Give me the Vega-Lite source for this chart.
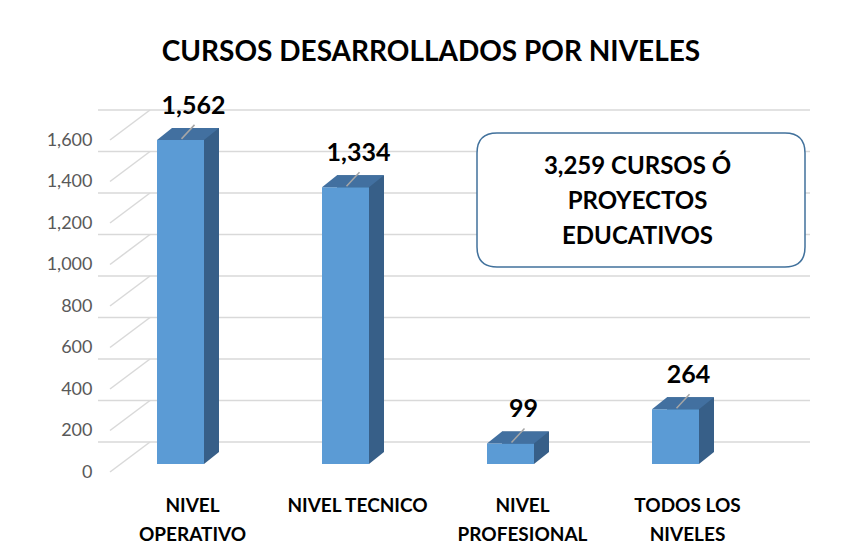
{
  "$schema": "https://vega.github.io/schema/vega-lite/v6.json",
  "autosize": {"type": "none"},
  "padding": {"left": 98, "top": 140, "right": 87, "bottom": 87},
  "width": 660,
  "height": 332,
  "background": "white",
  "title": {"text": "CURSOS DESARROLLADOS POR NIVELES", "font": "Lato", "fontSize": 28, "fontWeight": "bold", "color": "#000000", "anchor": "middle", "offset": 27, "dx": 3},
  "datasets": {
    "niveles": [
      {"nivel": "NIVEL OPERATIVO", "cursos": 1562},
      {"nivel": "NIVEL TECNICO", "cursos": 1334},
      {"nivel": "NIVEL PROFESIONAL", "cursos": 99},
      {"nivel": "TODOS LOS NIVELES", "cursos": 264}
    ],
    "rejilla": [{"v": 0}, {"v": 200}, {"v": 400}, {"v": 600}, {"v": 800}, {"v": 1000}, {"v": 1200}, {"v": 1400}, {"v": 1600}],
    "nota": [{"texto": ["3,259 CURSOS Ó", "PROYECTOS", "EDUCATIVOS"], "nivel": "TODOS LOS NIVELES", "pos": 1311}]
  },
  "data": {"name": "niveles"},
  "layer": [
    {
      "data": {"name": "rejilla"},
      "mark": {"type": "rule", "color": "#d9d9d9", "strokeWidth": 1.5, "xOffset": 52, "x2Offset": 52, "yOffset": -30, "y2Offset": -30},
      "encoding": {"y": {"field": "v", "type": "quantitative", "title": null}}
    },
    {
      "data": {"name": "rejilla"},
      "mark": {"type": "rule", "color": "#d9d9d9", "strokeWidth": 1.5, "xOffset": -70.5, "x2Offset": -30.5, "y2Offset": -30},
      "encoding": {
        "x": {"datum": "NIVEL OPERATIVO", "type": "nominal", "title": null},
        "x2": {"datum": "NIVEL OPERATIVO"},
        "y": {"field": "v", "type": "quantitative", "title": null},
        "y2": {"field": "v"}
      }
    },
    {
      "mark": {"type": "bar", "color": "#375f88", "width": 47, "xOffset": 15, "x2Offset": 15, "yOffset": -20, "y2Offset": -20},
      "encoding": {
        "x": {"field": "nivel", "type": "nominal", "title": null},
        "y": {"field": "cursos", "type": "quantitative", "title": null}
      }
    },
    {
      "mark": {"type": "bar", "color": "#5b9bd5", "width": 47, "yOffset": -8, "y2Offset": -8},
      "encoding": {
        "x": {"field": "nivel", "type": "nominal", "title": null, "sort": null,
          "scale": {"domain": ["NIVEL OPERATIVO", "NIVEL TECNICO", "NIVEL PROFESIONAL", "TODOS LOS NIVELES"], "paddingInner": 0, "paddingOuter": 0},
          "axis": {"domain": false, "ticks": false, "grid": false, "labelAngle": 0, "labelAlign": "center", "labelFont": "Lato", "labelFontSize": 19, "labelFontWeight": "bold", "labelColor": "#000000", "labelPadding": 24, "labelBaseline": "top", "labelLineHeight": 29, "labelOffset": 12,
            "labelExpr": "datum.value == 'NIVEL TECNICO' ? datum.value : (datum.value == 'TODOS LOS NIVELES' ? ['TODOS LOS', 'NIVELES'] : split(datum.value, ' '))"}},
        "y": {"field": "cursos", "type": "quantitative", "title": null,
          "scale": {"domain": [0, 1600], "nice": false, "zero": true},
          "axis": {"values": [0, 200, 400, 600, 800, 1000, 1200, 1400, 1600], "format": ",.0f", "domain": false, "ticks": false, "grid": false, "labelFont": "Lato", "labelFontSize": 18, "labelColor": "#595959", "labelPadding": 6}}
      }
    },
    {
      "mark": {"type": "point", "shape": "M-0.758,0L0.758,0L1.242,-0.387L-0.274,-0.387Z", "size": 3844, "filled": true, "color": "#4270a0", "opacity": 1, "yOffset": -8},
      "encoding": {
        "x": {"field": "nivel", "type": "nominal", "title": null},
        "y": {"field": "cursos", "type": "quantitative", "title": null}
      }
    },
    {
      "mark": {"type": "point", "shape": "M0.758,0L0.758,-0.387L1.242,-0.387Z", "size": 3844, "filled": true, "color": "#375f88", "opacity": 1, "yOffset": -8},
      "encoding": {
        "x": {"field": "nivel", "type": "nominal", "title": null},
        "y": {"datum": 0, "type": "quantitative", "title": null}
      }
    },
    {
      "mark": {"type": "point", "shape": "M0.2,-0.2L2.8,-3", "size": 100, "filled": false, "stroke": "#a6a6a6", "strokeWidth": 1.5, "opacity": 1, "yOffset": -8},
      "encoding": {
        "x": {"field": "nivel", "type": "nominal", "title": null},
        "y": {"field": "cursos", "type": "quantitative", "title": null}
      }
    },
    {
      "mark": {"type": "text", "font": "Lato", "fontSize": 25, "fontWeight": "bold", "color": "#000000", "baseline": "middle", "align": "center", "xOffset": 13, "yOffset": -42},
      "encoding": {
        "x": {"field": "nivel", "type": "nominal", "title": null},
        "y": {"field": "cursos", "type": "quantitative", "title": null},
        "text": {"field": "cursos", "type": "quantitative", "format": ","}
      }
    },
    {
      "data": {"name": "nota"},
      "mark": {"type": "point", "shape": "M-1.44,-0.67L1.44,-0.67Q1.64,-0.67 1.64,-0.47L1.64,0.47Q1.64,0.67 1.44,0.67L-1.44,0.67Q-1.64,0.67 -1.64,0.47L-1.64,-0.47Q-1.64,-0.67 -1.44,-0.67Z", "size": 40000, "filled": true, "fill": "white", "stroke": "#41719c", "strokeWidth": 1.5, "opacity": 1, "xOffset": -34.5},
      "encoding": {
        "x": {"field": "nivel", "type": "nominal", "title": null},
        "y": {"field": "pos", "type": "quantitative", "title": null}
      }
    },
    {
      "data": {"name": "nota"},
      "mark": {"type": "text", "font": "Lato", "fontSize": 24, "fontWeight": "bold", "color": "#000000", "baseline": "middle", "align": "center", "lineHeight": 35, "xOffset": -38, "yOffset": -33},
      "encoding": {
        "x": {"field": "nivel", "type": "nominal", "title": null},
        "y": {"field": "pos", "type": "quantitative", "title": null},
        "text": {"field": "texto"}
      }
    }
  ],
  "config": {"view": {"stroke": null}}
}
